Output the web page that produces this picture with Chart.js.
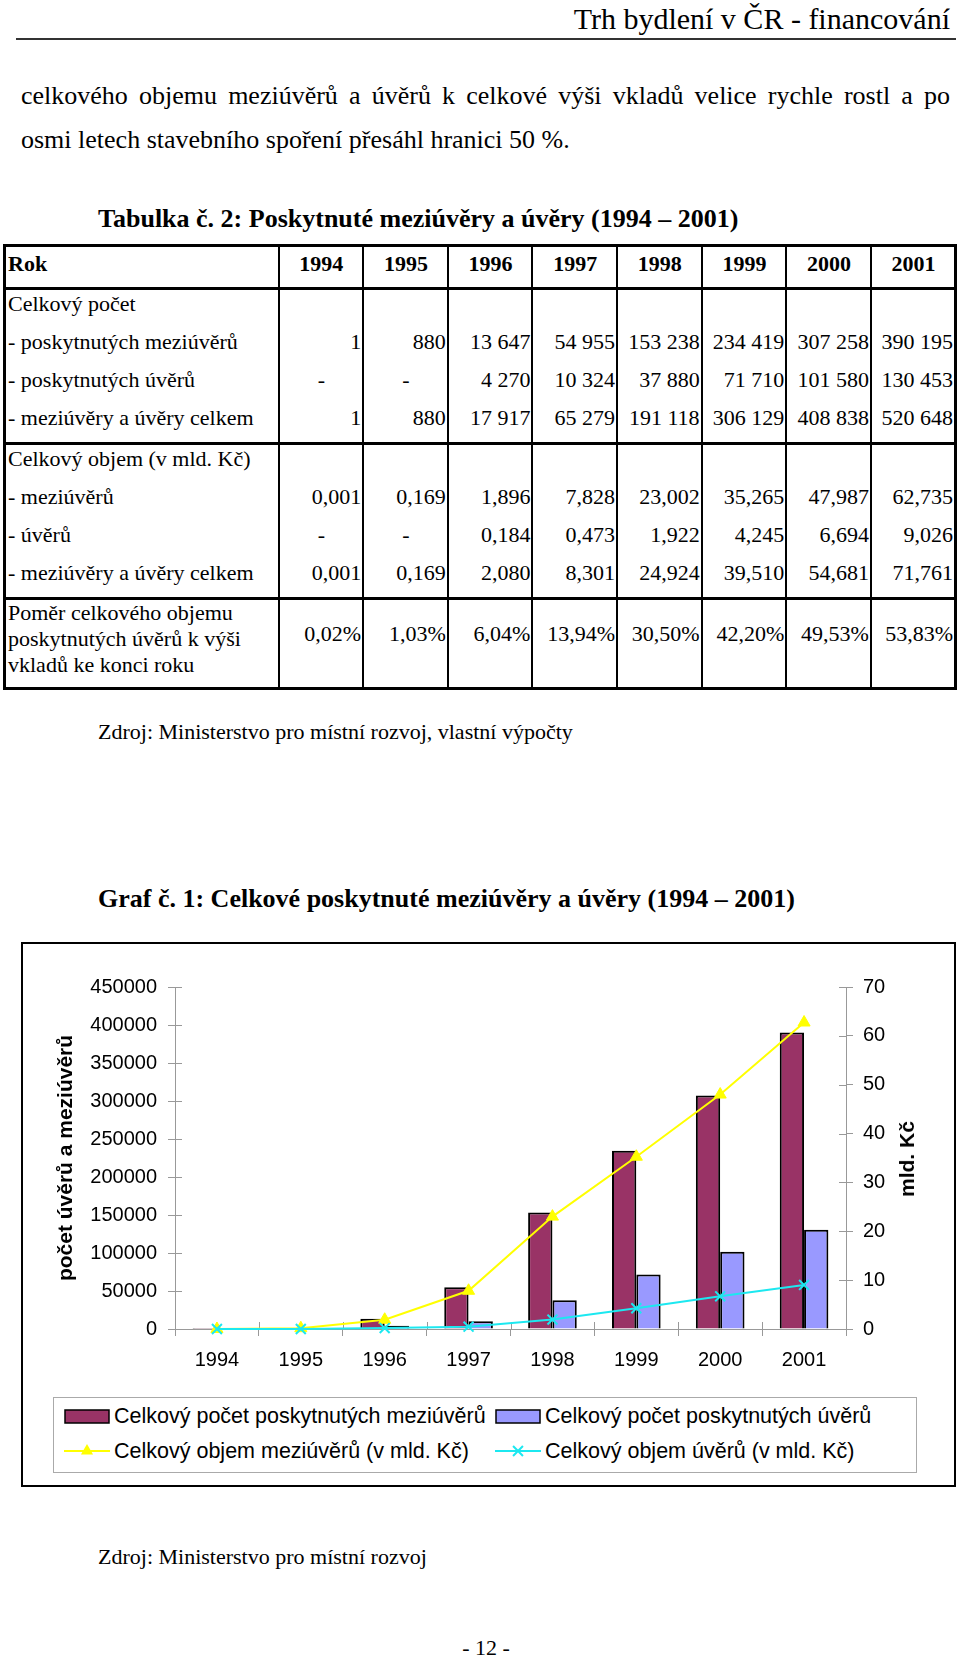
<!DOCTYPE html>
<html lang="cs">
<head>
<meta charset="utf-8">
<title>Trh bydlení v ČR - financování</title>
<script src="https://cdn.jsdelivr.net/npm/chart.js@4.4.1/dist/chart.umd.min.js"></script>
<style>
html, body { margin: 0; padding: 0; background: #fff; }
body { width: 960px; height: 1659px; position: relative; overflow: hidden;
       font-family: "Liberation Serif", "Times New Roman", serif; color: #000; }
.abs { position: absolute; white-space: nowrap; }
#header { right: 10px; top: 4px; font-size: 30px; line-height: 30px; }
#rule { left: 16px; top: 38px; width: 940px; height: 2px; background: #333; }
.para { left: 21px; width: 929px; font-size: 26px; line-height: 44px; }
#p1 { top: 74px; text-align: justify; text-align-last: justify; }
#p2 { top: 118px; }
.title { left: 98px; font-size: 26px; font-weight: bold; line-height: 30px; }
.src { left: 98px; font-size: 22px; line-height: 26px; }

#data { position: absolute; left: 3px; top: 244px; width: 954px; border-collapse: collapse;
        table-layout: fixed; font-size: 22px; border: 3px solid #000; }
#data td, #data th { border-left: 2px solid #000; border-right: 2px solid #000; padding: 0 1px 0 2px;
        vertical-align: middle; text-align: right; white-space: nowrap; overflow: visible; }
#data th { font-weight: bold; text-align: center; height: 34px; padding-bottom: 6px; border-bottom: 3px solid #000; }
#data th:first-child { text-align: left; }
#data td:first-child { text-align: left; }
#data td.dash { text-align: center; }
#data tr.sec td { border-top: 3px solid #000; }
#data tr.r td { height: 28px; padding-bottom: 10px; }
#data tr.tall td { height: 87px; vertical-align: top; line-height: 26px; padding-top: 0; }
#data tr.tall td.v { height: 66px; padding-top: 21px; }

#chartbox { position: absolute; left: 21px; top: 942px; width: 935px; height: 545px;
            box-sizing: border-box; border: 2px solid #000; background: #fff; }
#wrap { position: absolute; left: 0; top: 0; width: 931px; height: 446px; }
#rtitle { position: absolute; left: 884px; top: 215px; transform: translate(-50%, -50%) rotate(-90deg);
          font: bold 21px "Liberation Sans", Arial, sans-serif; white-space: nowrap; }
#legend { position: absolute; left: 30px; top: 453px; width: 864px; height: 76px;
          box-sizing: border-box; border: 1px solid #aaa; font: 21.5px "Liberation Sans", Arial, sans-serif; }
.item { position: absolute; white-space: nowrap; line-height: 24px; }
.item canvas { position: absolute; left: 0; top: 2px; }
.item span { position: absolute; top: 0; }
#page { left: 386px; width: 200px; text-align: center; top: 1635px; font-size: 22px; line-height: 26px; }
</style>
</head>
<body>
<div class="abs" id="header">Trh bydlení v ČR - financování</div>
<div class="abs" id="rule"></div>
<div class="abs para" id="p1">celkového objemu meziúvěrů a úvěrů k celkové výši vkladů velice rychle rostl a po</div>
<div class="abs para" id="p2">osmi letech stavebního spoření přesáhl hranici 50 %.</div>
<div class="abs title" style="top:204px">Tabulka č. 2: Poskytnuté meziúvěry a úvěry (1994 – 2001)</div>

<table id="data"><colgroup><col style="width:274px"></colgroup><thead></thead><tbody></tbody></table>

<div class="abs src" style="top:719px">Zdroj: Ministerstvo pro místní rozvoj, vlastní výpočty</div>
<div class="abs title" style="top:884px">Graf č. 1: Celkové poskytnuté meziúvěry a úvěry (1994 – 2001)</div>

<div id="chartbox">
  <div id="wrap"><canvas id="graf"></canvas></div>
  <div id="rtitle">mld. Kč</div>
  <div id="legend"></div>
</div>

<div class="abs src" style="top:1544px">Zdroj: Ministerstvo pro místní rozvoj</div>
<div class="abs" id="page">- 12 -</div>

<script>
var years = ['1994', '1995', '1996', '1997', '1998', '1999', '2000', '2001'];

// celkový počet
var countMezi = [1, 880, 13647, 54955, 153238, 234419, 307258, 390195];
var countUver = [null, null, 4270, 10324, 37880, 71710, 101580, 130453];
var countTotal = [1, 880, 17917, 65279, 191118, 306129, 408838, 520648];

// celkový objem (v mld. Kč)
var volMezi = [0.001, 0.169, 1.896, 7.828, 23.002, 35.265, 47.987, 62.735];
var volUver = [null, null, 0.184, 0.473, 1.922, 4.245, 6.694, 9.026];
var volTotal = [0.001, 0.169, 2.080, 8.301, 24.924, 39.510, 54.681, 71.761];

// poměr k výši vkladů (%)
var ratio = [0.02, 1.03, 6.04, 13.94, 30.50, 42.20, 49.53, 53.83];

var leftMax = 450000, leftStep = 50000;
var rightMax = 70, rightStep = 10;

function fmtCount(v) {
    return v == null ? '-' : String(v).replace(/\B(?=(\d{3})+(?!\d))/g, ' ');
}
function fmtVol(v) {
    return v == null ? '-' : v.toFixed(3).replace('.', ',');
}
function fmtPct(v) {
    return v.toFixed(2).replace('.', ',') + '%';
}

//////////////////////////////////////////////
// tabulka

var head = '<tr><th>Rok</th>';
years.forEach(function(y) { head += '<th>' + y + '</th>'; });
document.querySelector('#data thead').innerHTML = head + '</tr>';

var rows = [
    { label: 'Celkový počet', cls: 'r sec' },
    { label: '- poskytnutých meziúvěrů', data: countMezi, fmt: fmtCount, cls: 'r' },
    { label: '- poskytnutých úvěrů', data: countUver, fmt: fmtCount, cls: 'r' },
    { label: '- meziúvěry a úvěry celkem', data: countTotal, fmt: fmtCount, cls: 'r' },
    { label: 'Celkový objem (v mld. Kč)', cls: 'r sec' },
    { label: '- meziúvěrů', data: volMezi, fmt: fmtVol, cls: 'r' },
    { label: '- úvěrů', data: volUver, fmt: fmtVol, cls: 'r' },
    { label: '- meziúvěry a úvěry celkem', data: volTotal, fmt: fmtVol, cls: 'r' },
    { label: 'Poměr celkového objemu<br>poskytnutých úvěrů k výši<br>vkladů ke konci roku', data: ratio, fmt: fmtPct, cls: 'tall sec' }
];

var body = '';
rows.forEach(function(row) {
    body += '<tr class="' + row.cls + '"><td>' + row.label + '</td>';
    for (var i = 0; i < years.length; i++) {
        if (!row.data) {
            body += '<td></td>';
        } else if (row.data[i] == null) {
            body += '<td class="v dash">-</td>';
        } else {
            body += '<td class="v">' + row.fmt(row.data[i]) + '</td>';
        }
    }
    body += '</tr>';
});
document.querySelector('#data tbody').innerHTML = body;

//////////////////////////////////////////////
// graf

Chart.defaults.font.family = "'Liberation Sans', Arial, sans-serif";
Chart.defaults.color = '#000';

// krátké čárky i dovnitř plochy grafu (křížové značky os)
var crossTicks = {
    id: 'crossTicks',
    beforeDatasetsDraw: function(chart) {
        var ctx = chart.ctx, a = chart.chartArea;
        var xs = chart.scales.x, ys = chart.scales.y, ys1 = chart.scales.y1;
        ctx.save();
        ctx.strokeStyle = '#999';
        ctx.lineWidth = 1;
        ctx.beginPath();
        ys.ticks.forEach(function(t, i) {
            var y = Math.round(ys.getPixelForTick(i)) + 0.5;
            ctx.moveTo(a.left, y); ctx.lineTo(a.left + 7, y);
        });
        ys1.ticks.forEach(function(t, i) {
            var y = Math.round(ys1.getPixelForTick(i)) + 0.5;
            ctx.moveTo(a.right - 7, y); ctx.lineTo(a.right, y);
        });
        var step = xs.getPixelForValue(1) - xs.getPixelForValue(0);
        for (var i = 0; i <= years.length; i++) {
            var x = Math.round(xs.getPixelForValue(i) - step / 2) + 0.5;
            ctx.moveTo(x, a.bottom - 7); ctx.lineTo(x, a.bottom);
        }
        ctx.stroke();
        ctx.restore();
    }
};

var datasets = [
    {
        label: 'Celkový počet poskytnutých meziúvěrů',
        data: countMezi,
        yAxisID: 'y',
        backgroundColor: '#993366',
        borderColor: '#000',
        borderWidth: 2,
        order: 2
    },
    {
        label: 'Celkový počet poskytnutých úvěrů',
        data: countUver,
        yAxisID: 'y',
        backgroundColor: '#9999FF',
        borderColor: '#000',
        borderWidth: 2,
        order: 3
    },
    {
        type: 'line',
        label: 'Celkový objem meziúvěrů (v mld. Kč)',
        data: volMezi,
        yAxisID: 'y1',
        borderColor: '#FFFF00',
        backgroundColor: '#FFFF00',
        borderWidth: 2,
        pointStyle: 'triangle',
        pointRadius: 7,
        pointBorderWidth: 1,
        tension: 0,
        clip: false,
        order: 1
    },
    {
        type: 'line',
        label: 'Celkový objem úvěrů (v mld. Kč)',
        data: volUver.map(function(v) { return v == null ? 0 : v; }),
        yAxisID: 'y1',
        borderColor: '#1CE8F0',
        backgroundColor: '#1CE8F0',
        borderWidth: 2,
        pointStyle: 'crossRot',
        pointRadius: 7,
        pointBorderWidth: 2,
        tension: 0,
        clip: false,
        order: 0
    }
];

var tickFont = { size: 20 };

var chart = new Chart(document.getElementById('graf').getContext('2d'), {
    type: 'bar',
    data: { labels: years, datasets: datasets },
    options: {
        responsive: true,
        maintainAspectRatio: false,
        animation: false,
        layout: { padding: { top: 43, bottom: 11, left: 0, right: 0 } },
        datasets: { bar: { categoryPercentage: 0.58, barPercentage: 1.0 } },
        plugins: { legend: { display: false }, tooltip: { enabled: false } },
        scales: {
            x: {
                offset: true,
                grid: { drawOnChartArea: false, tickLength: 7, color: '#999', offset: true },
                border: { color: '#999' },
                ticks: { font: tickFont, padding: 12, color: '#000' },
                afterFit: function(scale) { scale.height = 50; }
            },
            y: {
                position: 'left',
                min: 0,
                max: leftMax,
                grid: { drawOnChartArea: false, tickLength: 7, color: '#999' },
                border: { color: '#999' },
                ticks: {
                    stepSize: leftStep, font: tickFont, padding: 11, color: '#000',
                    callback: function(v) { return String(v); }
                },
                title: {
                    display: true,
                    text: 'počet úvěrů a meziúvěrů',
                    color: '#000',
                    font: { size: 21, weight: 'bold' },
                    padding: { top: 31, bottom: 0 }
                },
                afterFit: function(scale) { scale.width = 152; }
            },
            y1: {
                position: 'right',
                min: 0,
                max: rightMax,
                grid: { drawOnChartArea: false, tickLength: 7, color: '#999' },
                border: { color: '#999' },
                ticks: {
                    stepSize: rightStep, font: tickFont, padding: 10, color: '#000',
                    callback: function(v) { return String(v); }
                },
                afterFit: function(scale) { scale.width = 108; }
            }
        }
    },
    plugins: [crossTicks]
});

//////////////////////////////////////////////
// legenda

function drawSwatch(cv, ds) {
    var c = cv.getContext('2d');
    if (ds.type == 'line') {
        c.strokeStyle = ds.borderColor;
        c.lineWidth = 2;
        c.beginPath(); c.moveTo(0, 10); c.lineTo(46, 10); c.stroke();
        var cx = 23, cy = 10, r = 7;
        if (ds.pointStyle == 'triangle') {
            c.fillStyle = ds.backgroundColor;
            c.beginPath();
            c.moveTo(cx, cy - r);
            c.lineTo(cx + r * 0.866, cy + r * 0.5);
            c.lineTo(cx - r * 0.866, cy + r * 0.5);
            c.closePath(); c.fill();
        } else {
            var d = r * 0.707;
            c.beginPath();
            c.moveTo(cx - d, cy - d); c.lineTo(cx + d, cy + d);
            c.moveTo(cx - d, cy + d); c.lineTo(cx + d, cy - d);
            c.stroke();
        }
    } else {
        c.fillStyle = ds.backgroundColor;
        c.fillRect(1, 4, 44, 13);
        c.strokeStyle = '#000';
        c.lineWidth = 1.5;
        c.strokeRect(1, 4, 44, 13);
    }
}

var legendPos = [[10, 6], [441, 6], [10, 41], [441, 41]];
var legend = document.getElementById('legend');
datasets.forEach(function(ds, i) {
    var item = document.createElement('div');
    item.className = 'item';
    item.style.left = legendPos[i][0] + 'px';
    item.style.top = legendPos[i][1] + 'px';
    var cv = document.createElement('canvas');
    cv.width = 46; cv.height = 20;
    drawSwatch(cv, ds);
    var sp = document.createElement('span');
    sp.style.left = '50px';
    sp.textContent = ds.label;
    item.appendChild(cv);
    item.appendChild(sp);
    legend.appendChild(item);
});
</script>
</body>
</html>
